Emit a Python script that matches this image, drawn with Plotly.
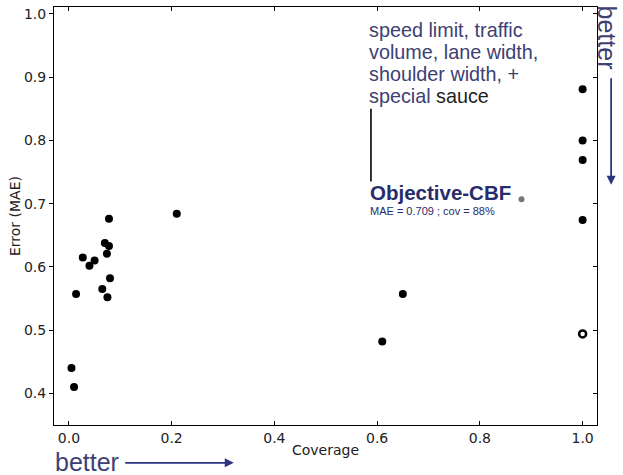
import plotly.graph_objects as go

coverage = [0.005, 0.01, 0.014, 0.027, 0.04, 0.05, 0.065, 0.07, 0.074, 0.078, 0.075, 0.08, 0.078,
            0.21, 0.61, 0.65, 1.0, 1.0, 1.0, 1.0]
mae = [0.44, 0.41, 0.557, 0.615, 0.602, 0.61, 0.565, 0.638, 0.621, 0.633, 0.552, 0.582, 0.676,
       0.684, 0.482, 0.557, 0.881, 0.800, 0.769, 0.674]
ring_cov = [1.0]
ring_mae = [0.494]
cbf_cov = [0.881]
cbf_mae = [0.707]
xticks = [0.0, 0.2, 0.4, 0.6, 0.8, 1.0]
yticks = [0.4, 0.5, 0.6, 0.7, 0.8, 0.9, 1.0]
feature_lines = ["speed limit, traffic", "volume, lane width,", "shoulder width, +"]

fig = go.Figure()
fig.add_trace(go.Scatter(x=coverage, y=mae, mode="markers",
                         marker=dict(color="black", size=8), showlegend=False))
fig.add_trace(go.Scatter(x=ring_cov, y=ring_mae, mode="markers",
                         marker=dict(color="white", size=7, line=dict(color="black", width=2.5)),
                         showlegend=False))
fig.add_trace(go.Scatter(x=cbf_cov, y=cbf_mae, mode="markers",
                         marker=dict(color="#777777", size=6), showlegend=False))

tfont = dict(family="DejaVu Sans", size=14, color="#222")
fig.update_xaxes(range=[-0.029, 1.028], tickvals=xticks, ticktext=[f"{v:.1f}" for v in xticks],
                 showline=True, linecolor="black", linewidth=1, mirror="ticks",
                 ticks="inside", ticklen=4, tickcolor="black", showgrid=False, zeroline=False,
                 tickfont=tfont,
                 title=dict(text="Coverage", font=dict(family="DejaVu Sans", size=14, color="#222"),
                            standoff=0))
fig.update_yaxes(range=[0.35, 1.011], tickvals=yticks, ticktext=[f"{v:.1f}" for v in yticks],
                 showline=True, linecolor="black", linewidth=1, mirror=True,
                 ticks="outside", ticklen=4, tickcolor="black", showgrid=False, zeroline=False,
                 tickfont=tfont,
                 title=dict(text="Error (MAE)", font=dict(family="DejaVu Sans", size=14, color="#222"),
                            standoff=0))
fig.update_layout(yaxis2=dict(overlaying="y", side="right", matches="y", range=[0.35, 1.011],
                              tickvals=yticks, ticks="inside", ticklen=4, tickcolor="black",
                              showticklabels=False, showgrid=False, zeroline=False, showline=False))
fig.add_trace(go.Scatter(x=[None], y=[None], yaxis="y2", showlegend=False, hoverinfo="skip"))

blue = "#3d4073"
navy = "#272c6a"
big = "font-size:19.8px"
block = "<br>".join(f"<span style='{big};color:{blue}'>{t}</span>" for t in feature_lines)
block += (f"<br><span style='{big};color:{blue}'>special</span>"
          f"<span style='{big};color:#1e1e1e'> sauce</span>")
cbf_text = (f"<span style='font-size:20.5px'><b>Objective-CBF</b></span><br>"
            f"<span style='font-size:11px'>MAE = 0.709 ; cov = 88%</span>")

annots = [
    dict(x=0.5764, y=0.9755, xref="paper", yref="paper", xanchor="left", yanchor="top", align="left",
         showarrow=False, text=block,
         font=dict(family="Liberation Sans", size=16.8, color=blue)),
    dict(x=0.5782, y=0.5876, xref="paper", yref="paper", xanchor="left", yanchor="top", align="left",
         showarrow=False, text=cbf_text,
         font=dict(family="Liberation Sans", size=11.3, color=navy)),
    dict(x=1.0184, y=0.927, xref="paper", yref="paper", xanchor="center", yanchor="middle",
         showarrow=False, textangle=90, text="better",
         font=dict(family="Liberation Sans", size=25, color=blue)),
    dict(x=1.026, y=0.575, xref="paper", yref="paper", ax=0, ay=-108, axref="pixel", ayref="pixel",
         text="", showarrow=True, arrowhead=2, arrowsize=1, arrowwidth=1.8, arrowcolor="#2d3580"),
    dict(x=-0.002, y=-0.0892, xref="paper", yref="paper", xanchor="left", yanchor="middle",
         showarrow=False, text="better", font=dict(family="Liberation Sans", size=25, color=blue)),
    dict(x=0.331, y=-0.0905, xref="paper", yref="paper", ax=-110, ay=0, axref="pixel", ayref="pixel",
         text="", showarrow=True, arrowhead=2, arrowsize=1, arrowwidth=1.8, arrowcolor="#2d3580"),
]
fig.update_layout(annotations=annots)
fig.add_shape(type="line", xref="x", yref="y", x0=0.588, x1=0.588, y0=0.85, y1=0.735,
              line=dict(color="#1e1e1e", width=1.8))

fig.update_layout(width=623, height=475, margin=dict(l=54, r=26, t=7, b=50),
                  plot_bgcolor="white", paper_bgcolor="white")
fig.write_html("out.html")
